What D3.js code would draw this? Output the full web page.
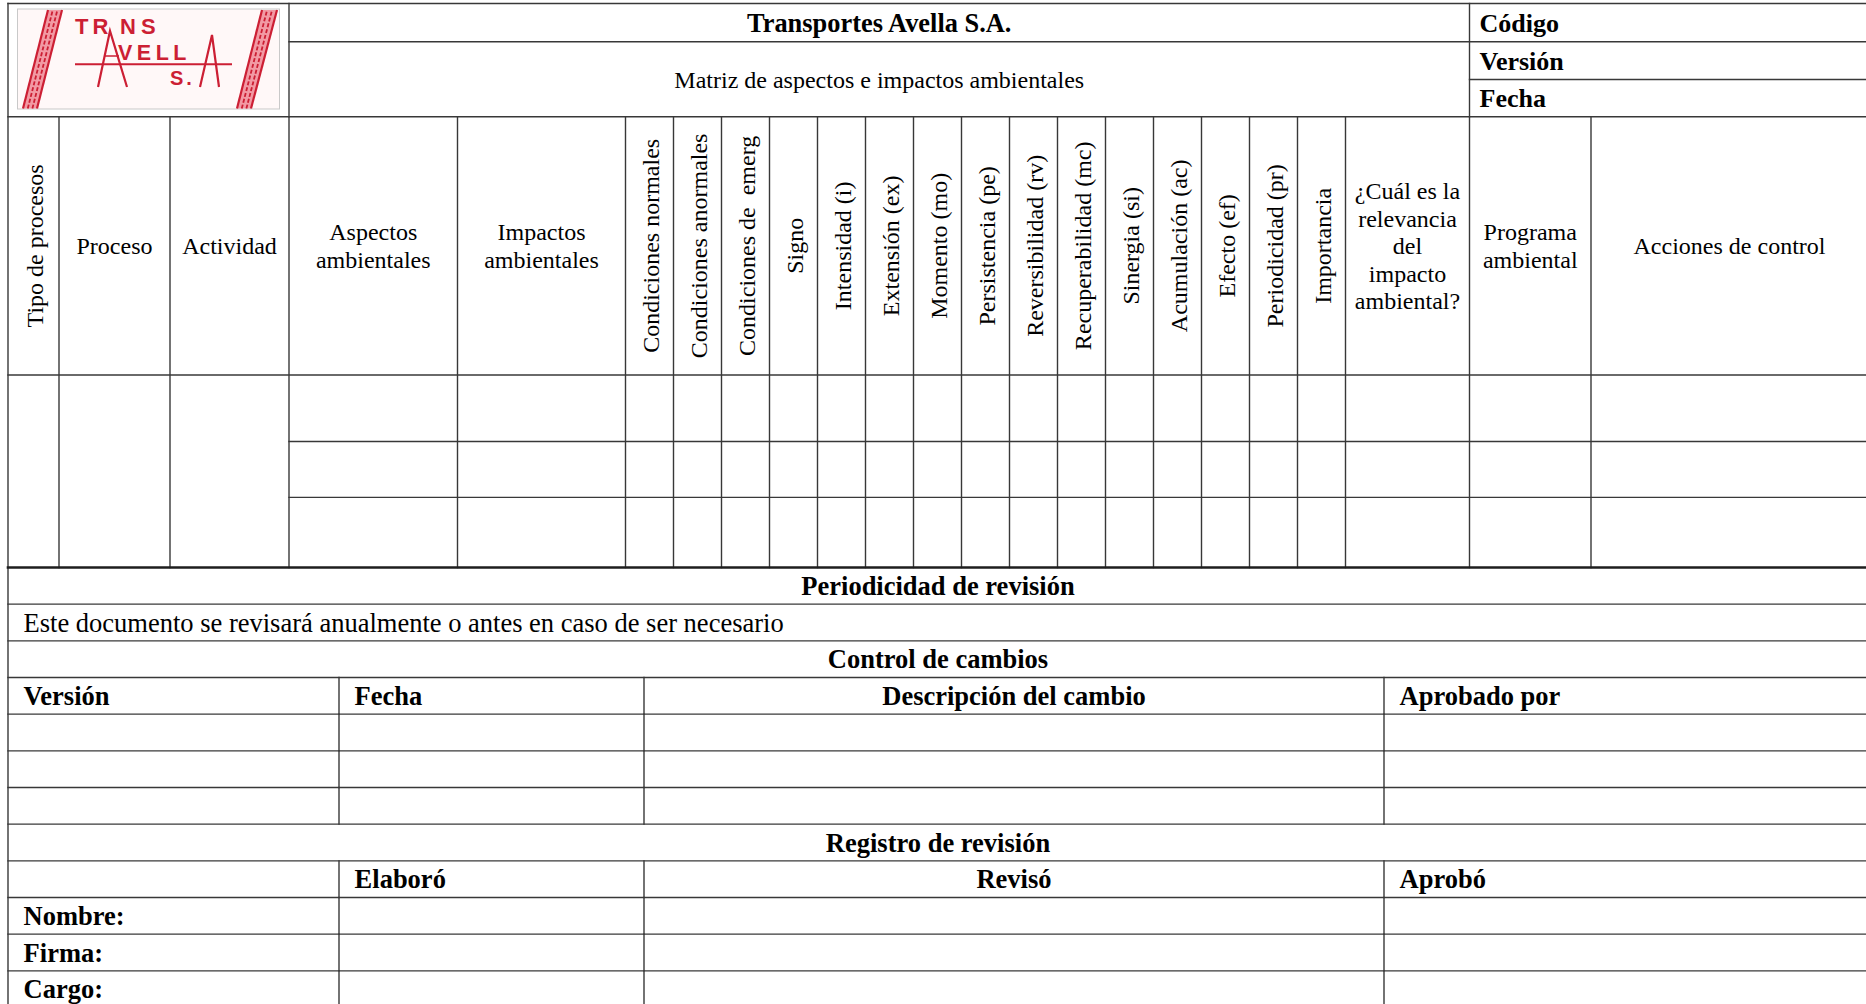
<!DOCTYPE html>
<html><head><meta charset="utf-8">
<script src="https://cdn.jsdelivr.net/npm/d3@7"></script>
<style>html,body{margin:0;padding:0;background:#fff;overflow:hidden}</style>
</head><body>
<svg id="c" width="1866" height="1004" xmlns="http://www.w3.org/2000/svg"></svg>
<script>
// ---------------- DATA ----------------
const company = "Transportes Avella S.A.";
const docTitle = "Matriz de aspectos e impactos ambientales";
const docMeta = ["Código", "Versión", "Fecha"];
const rotatedFirst = "Tipo de procesos";
const wideHeaders = [["Proceso"], ["Actividad"], ["Aspectos", "ambientales"], ["Impactos", "ambientales"]];
const narrowHeaders = ["Condiciones normales", "Condiciones anormales", "Condiciones de  emerg", "Signo",
  "Intensidad (i)", "Extensión (ex)", "Momento (mo)", "Persistencia (pe)", "Reversibilidad (rv)",
  "Recuperabilidad (mc)", "Sinergia (si)", "Acumulación (ac)", "Efecto (ef)", "Periodicidad (pr)", "Importancia"];
const rightHeaders = [["¿Cuál es la", "relevancia", "del", "impacto", "ambiental?"], ["Programa", "ambiental"], ["Acciones de control"]];
const matrixRows = ["r1", "r2", "r3"];
const reviewTitle = "Periodicidad de revisión";
const reviewText = "Este documento se revisará anualmente o antes en caso de ser necesario";
const changesTitle = "Control de cambios";
const changesHeaders = ["Versión", "Fecha", "Descripción del cambio", "Aprobado por"];
const changesRows = ["c1", "c2", "c3"];
const registryTitle = "Registro de revisión";
const registryHeaders = ["", "Elaboró", "Revisó", "Aprobó"];
const registryRows = ["Nombre:", "Firma:", "Cargo:"];

// ---------------- LAYOUT ----------------
const W = 1866, H = 1004;
const FONT = "'Liberation Serif','Times New Roman',Times,serif";
const INK = "#383838";
const LW = 1.4;
const L = 8, R = 1868;
const yTop = 3.5, yT1 = 41.7, yT2 = 79.5, yHead = 116.7;
const xLogoR = 289, xMetaL = 1469.5;

// matrix scales
const xWide = d3.scaleLinear().domain([0, 1, 2, 3, 4, 5]).range([L, 59, 170, 289, 457.5, 625.5]);
const xNarrow = d3.scaleBand().domain(narrowHeaders).range([625.5, 1345.5]);
const xRight = d3.scaleLinear().domain([0, 1, 2, 3]).range([1345.5, 1469.5, 1591, R]);
const yMatrix = d3.scaleLinear().domain([-1, 0, 1, 2, 3]).range([yHead, 375, 441.5, 497.4, 567.5]);
const headMid = (yMatrix(-1) + yMatrix(0)) / 2;

// lower scales
const lowerIds = d3.range(12);
const yLow = d3.scaleBand().domain(lowerIds).range([567.5, 1007.5]).padding(0);
const xLow = d3.scaleLinear().domain([0, 1, 2, 3, 4]).range([L, 339, 644, 1384, R]);

const svg = d3.select("#c");
svg.append("rect").attr("width", W).attr("height", H).attr("fill", "#fff");

// ---------------- LINES ----------------
const segs = [];
const seg = (x1, y1, x2, y2, w) => segs.push({x1, y1, x2, y2, w: w || LW});
seg(L, yTop, R, yTop);
seg(L, yTop, L, H + 5);
seg(xLogoR, yTop, xLogoR, yHead);
seg(xMetaL, yTop, xMetaL, yHead);
seg(xLogoR, yT1, R, yT1);
seg(xMetaL, yT2, R, yT2);
seg(L, yHead, R, yHead);
[1, 2, 3, 4, 5].forEach(i => seg(xWide(i), yHead, xWide(i), yMatrix(3)));
narrowHeaders.forEach(d => seg(xNarrow(d) + xNarrow.bandwidth(), yHead, xNarrow(d) + xNarrow.bandwidth(), yMatrix(3)));
[1, 2].forEach(i => seg(xRight(i), yHead, xRight(i), yMatrix(3)));
seg(L, yMatrix(0), R, yMatrix(0));
[1, 2].forEach(i => seg(xWide(3), yMatrix(i), R, yMatrix(i)));
lowerIds.forEach(i => seg(L, yLow(i), R, yLow(i), i === 0 ? 2.6 : LW));
[3, 4, 5, 6, 8, 9, 10, 11].forEach(i => [1, 2, 3].forEach(c => seg(xLow(c), yLow(i), xLow(c), yLow(i) + yLow.bandwidth())));

svg.append("g").selectAll("line").data(segs).join("line")
  .attr("x1", d => d.x1).attr("y1", d => d.y1).attr("x2", d => d.x2).attr("y2", d => d.y2)
  .attr("stroke", d => d.w > 2 ? "#1e1e1e" : INK).attr("stroke-width", d => d.w).attr("stroke-linecap", "square");

// ---------------- TEXT ----------------
const tg = svg.append("g").attr("font-family", FONT).attr("fill", "#000");
function text(s, x, y, size, opt = {}) {
  const t = tg.append("text").attr("x", x).attr("y", y).attr("font-size", size)
    .attr("text-anchor", opt.anchor || "start").attr("font-weight", opt.bold ? "bold" : "normal")
    .style("white-space", "pre").text(s);
  if (opt.rotate) t.attr("x", 0).attr("y", 0).attr("transform", `translate(${x},${y}) rotate(-90)`);
  return t;
}
const HS = 24, LS = 26.5, LH = 27.6, B24 = 8.4, B26 = 9.2;

text(company, (xLogoR + xMetaL) / 2, (yTop + yT1) / 2 + B26, 26.4, {anchor: "middle", bold: true});
text(docTitle, (xLogoR + xMetaL) / 2, (yT1 + yHead) / 2 + B24, HS, {anchor: "middle"});
const metaY = [yTop, yT1, yT2, yHead];
docMeta.forEach((d, i) => text(d, xMetaL + 10, (metaY[i] + metaY[i + 1]) / 2 + B26, 26, {bold: true}));

text(rotatedFirst, (xWide(0) + xWide(1)) / 2 + 9, headMid, HS, {anchor: "middle", rotate: true});
function multiline(lines, cx) {
  lines.forEach((s, i) => text(s, cx, headMid + (i - (lines.length - 1) / 2) * LH + B24, HS, {anchor: "middle"}));
}
wideHeaders.forEach((lines, i) => multiline(lines, (xWide(i + 1) + xWide(i + 2)) / 2));
narrowHeaders.forEach(d => text(d, xNarrow(d) + xNarrow.bandwidth() / 2 + 9, headMid, HS, {anchor: "middle", rotate: true}));
rightHeaders.forEach((lines, i) => multiline(lines, (xRight(i) + xRight(i + 1)) / 2));

const midLow = i => yLow(i) + yLow.bandwidth() / 2 + B26;
const xMid = (L + R) / 2;
const pad = 15.6;
text(reviewTitle, xMid, midLow(0), LS, {anchor: "middle", bold: true});
text(reviewText, L + pad, midLow(1), LS);
text(changesTitle, xMid, midLow(2), LS, {anchor: "middle", bold: true});
changesHeaders.forEach((d, c) => {
  if (c === 2) text(d, (xLow(2) + xLow(3)) / 2, midLow(3), LS, {anchor: "middle", bold: true});
  else text(d, xLow(c) + pad, midLow(3), LS, {bold: true});
});
text(registryTitle, xMid, midLow(7), LS, {anchor: "middle", bold: true});
registryHeaders.forEach((d, c) => {
  if (!d) return;
  if (c === 2) text(d, (xLow(2) + xLow(3)) / 2, midLow(8), LS, {anchor: "middle", bold: true});
  else text(d, xLow(c) + pad, midLow(8), LS, {bold: true});
});
registryRows.forEach((d, i) => text(d, L + pad, midLow(9 + i), LS, {bold: true}));

// ---------------- LOGO ----------------
const RED = "#cc1f34", PINK = "#f29aa4";
const lg = svg.append("g");
lg.append("rect").attr("x", 17.5).attr("y", 9).attr("width", 262).attr("height", 100)
  .attr("fill", "#fff8f8").attr("stroke", "#c9c9c9").attr("stroke-width", 1);
function stripe(b0, b1, t0, t1) {
  lg.append("polygon").attr("points", `${b0},108.5 ${b1},108.5 ${t1},10 ${t0},10`).attr("fill", PINK);
  [0, 0.34, 0.67, 1].forEach((f, k) => {
    lg.append("line").attr("x1", b0 + f * (b1 - b0)).attr("y1", 108.5)
      .attr("x2", t0 + f * (t1 - t0)).attr("y2", 10)
      .attr("stroke", RED).attr("stroke-width", k === 0 || k === 3 ? 2.2 : 1.8)
      .attr("stroke-dasharray", k === 0 || k === 3 ? null : "4,2");
  });
}
stripe(23, 37, 48, 62);
stripe(237, 251, 262, 277);
const lt = (s, x, y, size, ls) => lg.append("text").attr("x", x).attr("y", y).attr("font-size", size)
  .attr("font-family", "'Liberation Sans',Arial,sans-serif").attr("font-weight", "bold")
  .attr("letter-spacing", ls).attr("fill", RED).text(s);
lt("TR", 75, 34.3, 22, 4);
lt("NS", 120, 34.3, 22, 5);
lt("VELL", 118, 60, 21.5, 4.5);
lt("S.", 170, 85, 20, 3);
lg.append("line").attr("x1", 75).attr("y1", 64.3).attr("x2", 232).attr("y2", 64.3).attr("stroke", RED).attr("stroke-width", 2);
lg.append("polyline").attr("points", "98,87 110,31 127,87").attr("fill", "none").attr("stroke", RED).attr("stroke-width", 2.2);
lg.append("line").attr("x1", 104).attr("y1", 56).attr("x2", 119).attr("y2", 56).attr("stroke", RED).attr("stroke-width", 1.5);
lg.append("polyline").attr("points", "200,87 212,35 219,87").attr("fill", "none").attr("stroke", RED).attr("stroke-width", 2.2);
</script>
</body></html>
